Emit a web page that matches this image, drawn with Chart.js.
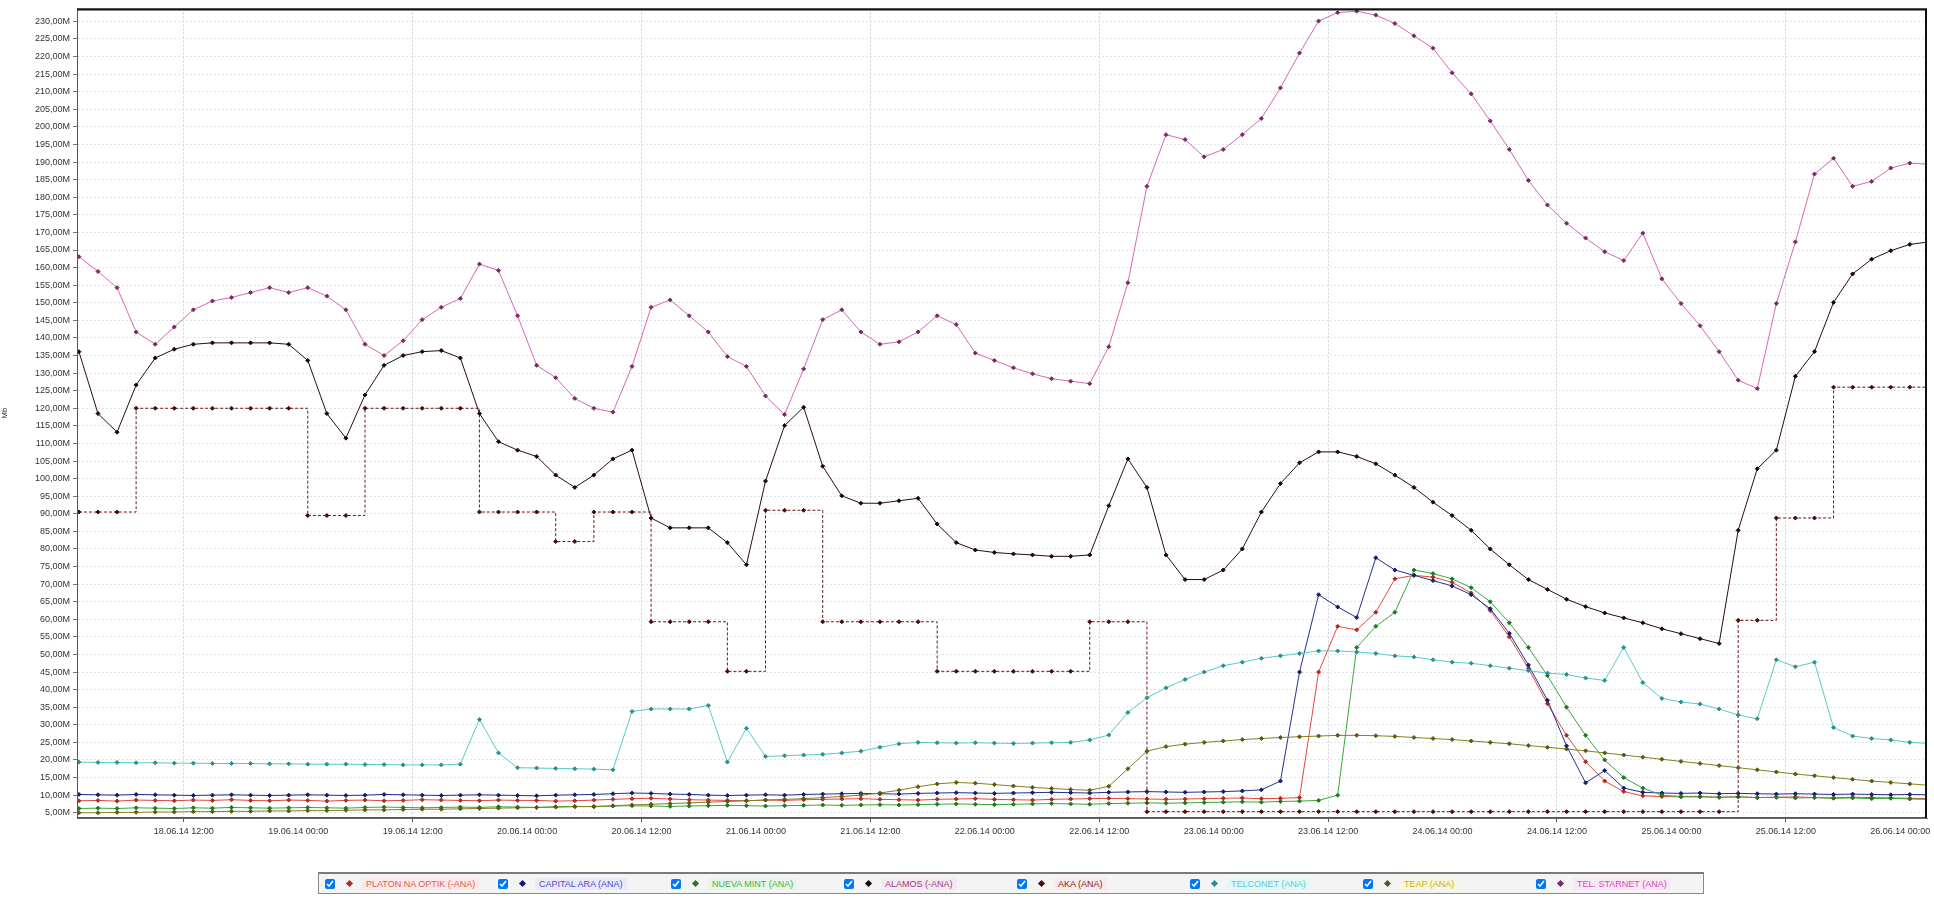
<!DOCTYPE html>
<html>
<head>
<meta charset="utf-8">
<script src="https://cdn.jsdelivr.net/npm/chart.js@4.4.1/dist/chart.umd.min.js"></script>
<style>
    html, body { margin: 0; padding: 0; background: #ffffff; }
    #wrap { position: relative; width: 1934px; height: 898px; }
    #chart { position: absolute; left: 0; top: 0; }
    #legend {
        position: absolute; left: 318px; top: 872px; width: 1386px; height: 22px;
        border: 1px solid #8a8a8a; border-top: 2px solid #7a7a7a; background: #f4f4f4;
        display: flex; align-items: center; font: 9px "Liberation Sans", Arial, sans-serif;
        box-sizing: border-box;
    }
    .item { width: 173px; display: flex; align-items: center; box-sizing: border-box; padding-left: 6px; }
    .item input { width: 10px; height: 10px; margin: 0 12px 0 0; }
    .item .mk { width: 5px; height: 5px; transform: rotate(45deg); margin-right: 10px; }
    .item .tx { padding: 1px 4px; white-space: nowrap; }
</style>
</head>
<body>
<div id="wrap">
    <canvas id="chart" width="1934" height="860"></canvas>
    <div id="legend"></div>
</div>
<script>
// horas desde 18.06.14 00:00
const hours = [1, 3, 5, 7, 9, 11, 13, 15, 17, 19, 21, 23, 25, 27, 29, 31, 33, 35, 37, 39,
    41, 43, 45, 47, 49, 51, 53, 55, 57, 59, 61, 63, 65, 67, 69, 71, 73, 75, 77, 79,
    81, 83, 85, 87, 89, 91, 93, 95, 97, 99, 101, 103, 105, 107, 109, 111, 113, 115, 117, 119,
    121, 123, 125, 127, 129, 131, 133, 135, 137, 139, 141, 143, 145, 147, 149, 151, 153, 155, 157, 159,
    161, 163, 165, 167, 169, 171, 173, 175, 177, 179, 181, 183, 185, 187, 189, 191, 193, 195];

const xTickHours = [12, 24, 36, 48, 60, 72, 84, 96, 108, 120, 132, 144, 156, 168, 180, 192];
const xTickLabels = ['18.06.14 12:00', '19.06.14 00:00', '19.06.14 12:00', '20.06.14 00:00',
    '20.06.14 12:00', '21.06.14 00:00', '21.06.14 12:00', '22.06.14 00:00',
    '22.06.14 12:00', '23.06.14 00:00', '23.06.14 12:00', '24.06.14 00:00',
    '24.06.14 12:00', '25.06.14 00:00', '25.06.14 12:00', '26.06.14 00:00'];

const yTicks = [5, 10, 15, 20, 25, 30, 35, 40, 45, 50, 55, 60, 65, 70, 75, 80, 85, 90, 95, 100,
    105, 110, 115, 120, 125, 130, 135, 140, 145, 150, 155, 160, 165, 170, 175, 180, 185, 190, 195, 200,
    205, 210, 215, 220, 225, 230];

const seriesNames = ['PLATON NA OPTIK (-ANA)', 'CAPITAL ARA (ANA)', 'NUEVA MINT (ANA)', 'ALAMOS (-ANA)',
    'AKA (ANA)', 'TELCONET (ANA)', 'TEAP (ANA)', 'TEL. STARNET (ANA)'];

const platon = [8.4, 8.5, 8.3, 8.6, 8.5, 8.4, 8.6, 8.5, 8.7, 8.5,
    8.4, 8.6, 8.5, 8.3, 8.5, 8.6, 8.4, 8.5, 8.7, 8.6,
    8.5, 8.4, 8.6, 8.5, 8.5, 8.3, 8.4, 8.6, 8.8, 9.0,
    9.1, 8.9, 8.7, 8.6, 8.5, 8.4, 8.6, 8.5, 8.7, 8.8,
    8.9, 9.0, 8.8, 8.7, 8.6, 8.8, 8.9, 9.0, 8.8, 8.7,
    8.6, 8.8, 8.9, 9.0, 9.1, 9.0, 8.9, 8.8, 8.9, 9.0,
    9.1, 9.2, 9.0, 9.1, 9.3,
    45, 58, 57, 62, 71.5, 72.5, 72, 70.5, 67.5, 62.5,
    55, 46, 36, 27, 19.5, 14, 11,
    9.8, 9.6, 9.5, 9.6, 9.4, 9.5, 9.3, 9.4, 9.5, 9.3, 9.2, 9.4, 9.3, 9.2, 9.1, 9.0];

const capital = [10.2, 10.1, 10.0, 10.2, 10.1, 10.0, 9.9, 10.0, 10.1, 10.0,
    9.9, 10.0, 10.1, 10.0, 9.9, 10.0, 10.2, 10.1, 10.0, 9.9,
    10.0, 10.1, 10.0, 9.9, 9.8, 10.0, 10.1, 10.2, 10.4, 10.6,
    10.5, 10.3, 10.2, 10.0, 9.9, 10.0, 10.1, 10.0, 10.2, 10.3,
    10.4, 10.5, 10.4, 10.3, 10.5, 10.6, 10.7, 10.6, 10.5, 10.6,
    10.7, 10.8, 10.7, 10.6, 10.8, 10.9, 11.0, 10.9, 10.8, 10.9,
    11.0, 11.2,
    11.5, 14, 45, 67, 63.5, 60.5, 77.5, 74, 72.5, 71,
    69.5, 67, 63, 56, 47, 37, 24, 13.5, 17, 12,
    10.8, 10.6, 10.5, 10.6, 10.4, 10.5, 10.4, 10.3, 10.4, 10.3, 10.2, 10.3, 10.2, 10.1, 10.2, 10.1];

const nueva = [6.2, 6.3, 6.2, 6.4, 6.3, 6.2, 6.4, 6.3, 6.5, 6.4,
    6.3, 6.4, 6.5, 6.4, 6.3, 6.5, 6.6, 6.5, 6.4, 6.5,
    6.6, 6.5, 6.7, 6.6, 6.5, 6.7, 6.8, 6.7, 6.9, 7.0,
    6.9, 6.8, 6.9, 7.0, 7.1, 7.0, 6.9, 7.0, 7.1, 7.2,
    7.1, 7.2, 7.3, 7.2, 7.3, 7.4, 7.5, 7.4, 7.3, 7.4,
    7.5, 7.6, 7.5, 7.4, 7.6, 7.7, 7.8, 7.7, 7.8, 7.9,
    8.0, 8.1, 8.0, 8.2, 8.3, 8.5,
    10, 52, 58, 62, 74, 73, 71.5, 69, 65, 59,
    52, 44, 35, 27, 20, 15, 12, 10,
    9.6, 9.5, 9.4, 9.5, 9.3, 9.4, 9.2, 9.3, 9.1, 9.2, 9.0, 9.1, 8.9, 8.8];

const alamos = [136.1, 118.5, 113.2, 126.6, 134.3, 136.8, 138.2, 138.6, 138.6, 138.6,
    138.6, 138.2, 133.6, 118.5, 111.5, 123.8, 132.2, 135.0, 136.1, 136.4,
    134.3, 118.5, 110.5, 108.1, 106.3, 101.0, 97.5, 101.0, 105.6, 108.1,
    88.8, 86.0, 86.0, 86.0, 81.8, 75.5, 99.3, 115.1, 120.3, 103.5,
    95.1, 93.0, 93.0, 93.7, 94.4, 87.1, 81.8, 79.7, 79.0, 78.6,
    78.3, 77.9, 77.9, 78.3, 92.3, 105.6, 97.5, 78.3, 71.3, 71.3,
    74.0, 80.0, 90.5, 98.6, 104.5, 107.6, 107.6, 106.3, 104.2, 101.0,
    97.5, 93.3, 89.5, 85.3, 80.0, 75.5, 71.3, 68.5, 65.7, 63.6,
    61.8, 60.4, 59.0, 57.3, 55.9, 54.5, 53.1, 85.3, 102.8, 108.1,
    129.1, 136.1, 150.1, 158.2, 162.4, 164.8, 166.6, 167.3];

const aka = [90.5, 90.5, 90.5,
    120, 120, 120, 120, 120, 120, 120, 120, 120,
    89.5, 89.5, 89.5,
    120, 120, 120, 120, 120, 120,
    90.5, 90.5, 90.5, 90.5,
    82.1, 82.1,
    90.5, 90.5, 90.5,
    59.3, 59.3, 59.3, 59.3,
    45.2, 45.2,
    91.0, 91.0, 91.0,
    59.3, 59.3, 59.3, 59.3, 59.3, 59.3,
    45.2, 45.2, 45.2, 45.2, 45.2, 45.2, 45.2, 45.2,
    59.3, 59.3, 59.3,
    5.3, 5.3, 5.3, 5.3, 5.3, 5.3, 5.3, 5.3, 5.3, 5.3, 5.3, 5.3, 5.3, 5.3, 5.3, 5.3,
    5.3, 5.3, 5.3, 5.3, 5.3, 5.3, 5.3, 5.3, 5.3, 5.3, 5.3, 5.3, 5.3, 5.3, 5.3,
    59.7, 59.7,
    88.8, 88.8, 88.8,
    126, 126, 126, 126, 126, 126];

const telconet = [19.4, 19.3, 19.3, 19.2, 19.2, 19.1, 19.1, 19.0, 19.0, 19.0,
    18.9, 18.9, 18.8, 18.8, 18.8, 18.7, 18.7, 18.6, 18.6, 18.6,
    18.8, 31.5, 22.0, 17.8, 17.7, 17.6, 17.5, 17.4, 17.2, 33.8,
    34.5, 34.5, 34.5, 35.5, 19.4, 29.0, 21.0, 21.2, 21.4, 21.6,
    22.0, 22.5, 23.6, 24.6, 25.0, 24.9, 24.8, 24.9, 24.8, 24.7,
    24.8, 24.9, 25.0, 25.7, 27.1, 33.5, 37.7, 40.5, 42.9, 45.0,
    46.8, 47.8, 48.9, 49.6, 50.3, 51.0, 51.0, 50.7, 50.3, 49.6,
    49.3, 48.5, 47.8, 47.5, 46.8, 46.1, 45.4, 44.7, 44.3, 43.3,
    42.6, 52.0, 42.0, 37.5, 36.5, 35.9, 34.5, 32.8, 31.7, 48.5,
    46.5, 47.8, 29.2, 26.8, 26.1, 25.7, 25.0, 24.7];

const teap = [5.0, 5.0, 5.1, 5.1, 5.2, 5.2, 5.3, 5.3, 5.4, 5.4,
    5.5, 5.5, 5.6, 5.6, 5.7, 5.8, 5.8, 5.9, 6.0, 6.0,
    6.1, 6.2, 6.3, 6.4, 6.5, 6.6, 6.7, 6.8, 7.0, 7.2,
    7.4, 7.6, 7.8, 8.0, 8.2, 8.4, 8.6, 8.8, 9.0, 9.3,
    9.6, 10.0, 10.6, 11.4, 12.4, 13.2, 13.6, 13.4, 13.0, 12.6,
    12.2, 11.9, 11.6, 11.4, 12.5, 17.5, 22.5, 23.8, 24.5, 25.0,
    25.4, 25.8, 26.1, 26.4, 26.6, 26.8, 27.0, 27.0, 26.9, 26.7,
    26.4, 26.1, 25.8, 25.4, 25.0, 24.6, 24.1, 23.6, 23.1, 22.6,
    22.0, 21.4, 20.8, 20.2, 19.6, 19.0, 18.4, 17.8, 17.2, 16.6,
    16.0, 15.5, 15.0, 14.5, 14.0, 13.6, 13.2, 12.8];

const starnet = [163.1, 158.9, 154.3, 141.7, 138.2, 143.1, 148.0, 150.5, 151.5, 152.9,
    154.3, 152.9, 154.3, 151.9, 148.0, 138.2, 135.0, 139.2, 145.2, 148.7,
    151.2, 161.0, 159.2, 146.3, 132.2, 128.7, 122.8, 120.0, 118.9, 131.9,
    148.7, 150.8, 146.3, 141.7, 134.7, 131.9, 123.5, 118.2, 131.2, 145.2,
    148.0, 141.7, 138.2, 138.9, 141.7, 146.3, 143.8, 135.7, 133.6, 131.5,
    129.8, 128.4, 127.7, 127.0, 137.5, 155.7, 183.1, 197.8, 196.4, 191.5,
    193.6, 197.8, 202.4, 211.1, 221.0, 230.1, 232.5, 232.9, 231.8, 229.4,
    225.9, 222.4, 215.4, 209.4, 201.7, 193.6, 184.8, 177.8, 172.6, 168.4,
    164.5, 162.0, 169.8, 156.8, 149.8, 143.5, 136.1, 128.0, 125.6, 149.8,
    167.3, 186.6, 191.1, 183.1, 184.5, 188.3, 189.7, 189.4];

const allValues = [platon, capital, nueva, alamos, aka, telconet, teap, starnet];

// estilos por serie
const lineColors = ['#e2483f', '#26308f', '#3aa83a', '#2b0b18', '#6e1717', '#5cc9c9', '#85801f', '#d667b8'];
const pointColors = ['#b02a22', '#141c6a', '#1f7a1f', '#1a0610', '#4a0a0a', '#2a8f8f', '#5d5810', '#7a2a62'];
const textColors = ['#e25a50', '#4a4ad0', '#4cae4c', '#9a3a7a', '#8a2020', '#4fcfd6', '#c8b21a', '#d24cc0'];
const textBgs = ['#fbe9e8', '#e9e9f8', '#e7f5e6', '#f6e8f1', '#f6ebea', '#e4f7f8', '#faf6de', '#f9e7f5'];

const datasets = allValues.map((vals, i) => ({
    label: seriesNames[i],
    data: vals.map((v, j) => ({ x: hours[j], y: v })),
    borderColor: lineColors[i],
    backgroundColor: pointColors[i],
    pointBorderColor: pointColors[i],
    pointBackgroundColor: pointColors[i],
    borderWidth: 1,
    pointStyle: 'rectRot',
    pointRadius: 2,
    pointBorderWidth: 1,
    stepped: i === 4 ? true : false,
    borderDash: i === 4 ? [3, 2] : [],
    tension: 0,
    order: 8 - i
}));

const framePlugin = {
    id: 'frame',
    afterDraw(chart) {
        const a = chart.chartArea;
        const ctx = chart.ctx;
        ctx.save();
        ctx.strokeStyle = '#555';
        ctx.lineWidth = 1;
        ctx.strokeRect(a.left + 0.5, a.top + 0.5, a.right - a.left - 1, a.bottom - a.top - 1);
        ctx.strokeStyle = '#111';
        ctx.lineWidth = 2;
        ctx.beginPath();
        ctx.moveTo(a.left, a.top + 1);
        ctx.lineTo(a.right, a.top + 1);
        ctx.moveTo(a.right - 1, a.top);
        ctx.lineTo(a.right - 1, a.bottom);
        ctx.stroke();
        ctx.restore();
    }
};

const tickFont = { family: '"Liberation Sans", Arial, sans-serif', size: 9 };

new Chart(document.getElementById('chart').getContext('2d'), {
    type: 'line',
    data: { datasets: datasets },
    plugins: [framePlugin],
    options: {
        responsive: false,
        animation: false,
        layout: { padding: { left: 0, right: 7, top: 8, bottom: 0 } },
        plugins: {
            legend: { display: false },
            tooltip: { enabled: false }
        },
        scales: {
            x: {
                type: 'linear',
                min: 0.8,
                max: 194.8,
                afterBuildTicks: (scale) => { scale.ticks = xTickHours.map(v => ({ value: v })); },
                afterFit: (scale) => { scale.height = 42; scale.paddingLeft = 0; scale.paddingRight = 0; },
                ticks: {
                    autoSkip: false,
                    maxRotation: 0,
                    color: '#333',
                    font: tickFont,
                    padding: 4,
                    callback: (v, idx) => xTickLabels[idx]
                },
                grid: {
                    color: (c) => (c.index % 2 === 0 ? '#c9d3d8' : 'rgba(0,0,0,0)'),
                    tickLength: 4,
                    tickColor: (c) => (c.index % 2 === 0 ? '#555' : 'rgba(0,0,0,0)')
                },
                border: { display: true, color: '#666', dash: [2, 2] }
            },
            y: {
                min: 3.5,
                max: 233.7,
                afterBuildTicks: (scale) => { scale.ticks = yTicks.map(v => ({ value: v })); },
                afterFit: (scale) => { scale.width = 77; },
                ticks: {
                    autoSkip: false,
                    color: '#333',
                    font: tickFont,
                    padding: 3,
                    callback: (v) => v.toFixed(2).replace('.', ',') + 'M'
                },
                grid: {
                    color: '#dde3e6',
                    tickLength: 4,
                    tickColor: '#777'
                },
                border: { display: true, color: '#666', dash: [2, 2] },
                title: {
                    display: true,
                    text: 'Mb',
                    color: '#333',
                    font: { family: '"Liberation Sans", Arial, sans-serif', size: 8 },
                    padding: 0
                }
            }
        }
    }
});

// leyenda con casillas
const legendBox = document.getElementById('legend');
seriesNames.forEach((name, i) => {
    const item = document.createElement('div');
    item.className = 'item';
    const cb = document.createElement('input');
    cb.type = 'checkbox';
    cb.checked = true;
    const mk = document.createElement('span');
    mk.className = 'mk';
    mk.style.background = pointColors[i];
    const tx = document.createElement('span');
    tx.className = 'tx';
    tx.textContent = name;
    tx.style.color = textColors[i];
    tx.style.background = textBgs[i];
    item.appendChild(cb);
    item.appendChild(mk);
    item.appendChild(tx);
    legendBox.appendChild(item);
});
</script>
</body>
</html>
